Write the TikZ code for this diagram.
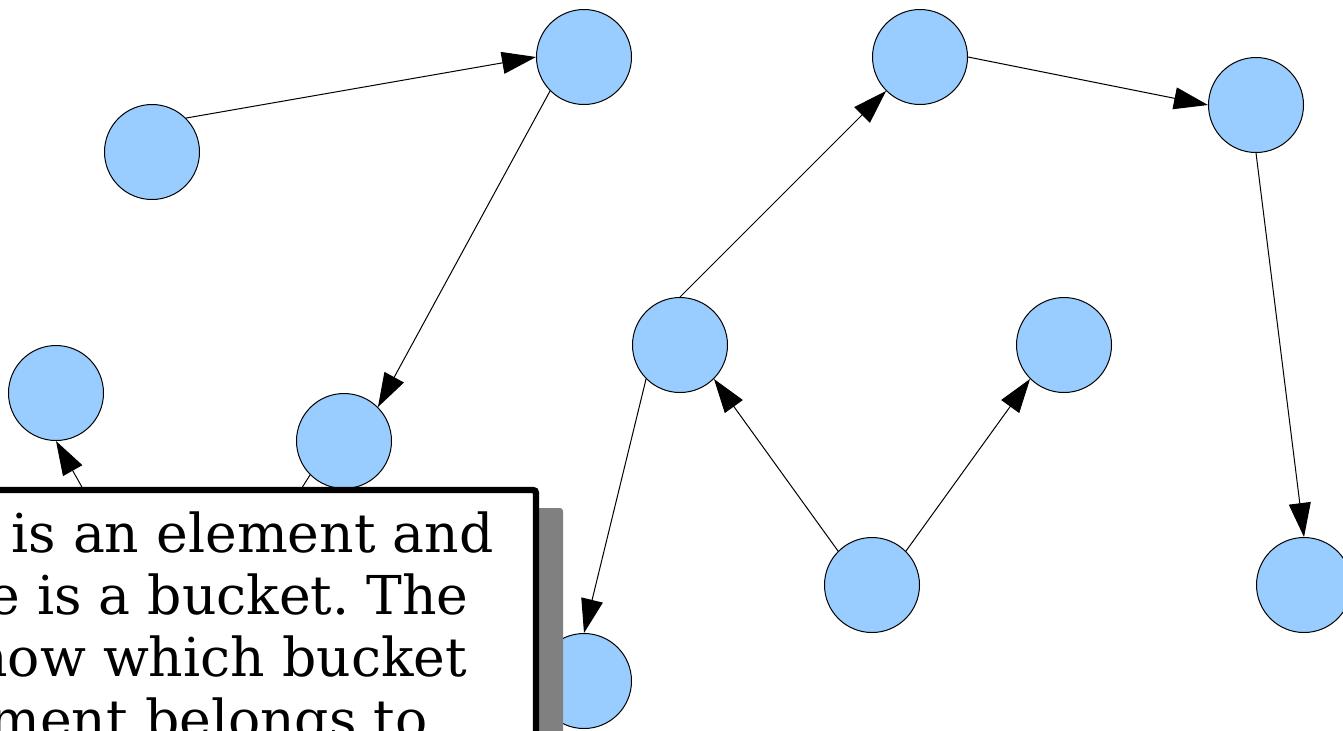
\documentclass[tikz,border=0pt]{standalone}
\usepackage{fontspec}
\setmainfont{DejaVu Serif}
\usetikzlibrary{arrows.meta}

\definecolor{ballblue}{HTML}{99CCFF}
\definecolor{shadowgray}{HTML}{808080}

\tikzset{
    ball/.style={circle, draw=black, line width=0.5pt, fill=ballblue,
        minimum size=47.5pt, inner sep=0pt},
    link/.style={-{Triangle[length=17pt,width=11pt]}, line width=0.5pt},
    notetext/.style={anchor=base west, inner sep=0pt,
        font=\fontsize{26.8pt}{31pt}\selectfont\frenchspacing},
}

\begin{document}
\begin{tikzpicture}[x=0.5pt, y=-0.5pt]
    \useasboundingbox (0,0) rectangle (1343,730);
    \clip (0,0) rectangle (1343,730);

    % the elements
    \foreach \name/\x/\y in {a/152/152, b/584/57, c/920/57, d/1256/105,
                             e/56/393, f/344/441, g/680/345, h/1064/345,
                             i/872/585, j/1304/585, k/584/681}
        \node[ball] (\name) at (\x,\y) {};

    % ends that sit under the note
    \coordinate (ehid) at (118,551);
    \coordinate (fhid) at (250,570);

    \foreach \from/\to in {a.north east/b.west, b.south west/f.north east,
                           g.north/c.south west, c.east/d.west,
                           d.south/j.north, g.south west/k.north,
                           i.north west/g.south east, i.north east/h.south west,
                           ehid/e.south, f.south west/fhid}
        \draw[link] (\from) -- (\to);

    % the note with its shadow
    \fill[shadowgray, rounded corners=1.5pt] (-20,508) rectangle (563,760);
    \draw[line width=3.2pt, fill=white, rounded corners=1.5pt] (-20,490) rectangle (536,760);

    \node[notetext] (line1) at (11,552) {is an element and};
    \node[notetext] (line2) at (-12,614) {e is a bucket. The};
    \node[notetext] (line3) at (-27,676) {how which bucket};
    \node[notetext] (line4) at (-11,738) {ment belongs to};
\end{tikzpicture}
\end{document}
